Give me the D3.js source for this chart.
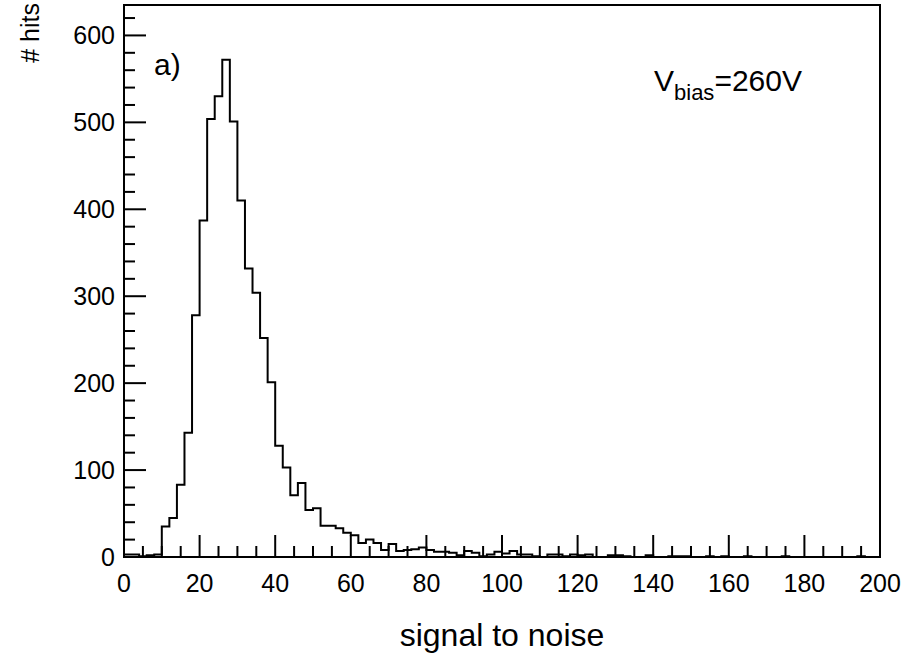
<!DOCTYPE html>
<html>
<head>
<meta charset="utf-8">
<script src="https://cdn.jsdelivr.net/npm/d3@7"></script>
<style>
  body { margin: 0; background: #fff; }
  text { font-family: "Liberation Sans", Arial, sans-serif; fill: #000; }
</style>
</head>
<body>
<div id="chart"></div>
<script>
// Histogram: 100 bins of width 2 from 0 to 200
const binEdges = d3.range(0, 201, 2);
const counts = [
  3, 3, 1, 2, 3, 35, 45, 83, 143, 278,
  387, 504, 530, 572, 501, 410, 332, 304, 252, 201,
  128, 103, 71, 85, 54, 56, 36, 36, 33, 28,
  25, 16, 20, 16, 8, 15, 7, 8, 9, 11,
  8, 6, 6, 5, 2, 7, 5, 1, 3, 6,
  4, 7, 3, 3, 1, 0, 3, 3, 1, 3,
  2, 3, 0, 0, 2, 2, 1, 0, 0, 2,
  0, 0, 1, 1, 1, 0, 0, 1, 0, 1,
  0, 0, 1, 0, 0, 0, 0, 1, 0, 0,
  0, 0, 0, 0, 0, 0, 0, 1, 0, 0
];
const xTicks = d3.range(0, 201, 20);
const yTicks = d3.range(0, 601, 100);

const width = 903, height = 659;
const frame = { left: 124, right: 880, top: 5, bottom: 557 };

const svg = d3.select("#chart").append("svg")
    .attr("width", width)
    .attr("height", height);

const x = d3.scaleLinear().domain([0, 200]).range([frame.left, frame.right]);
const y = d3.scaleLinear().domain([0, 635]).range([frame.bottom, frame.top]);

// step outline of the histogram
const pts = [[x(0), y(0)]];
counts.forEach((c, i) => {
    pts.push([x(binEdges[i]), y(c)]);
    pts.push([x(binEdges[i + 1]), y(c)]);
});
pts.push([x(200), y(0)]);

svg.append("path")
    .attr("d", d3.line()(pts))
    .attr("fill", "none")
    .attr("stroke", "#000")
    .attr("stroke-width", 2);

// ticks (ROOT style, inside the frame)
const g = svg.append("g").attr("stroke", "#000").attr("stroke-width", 2);
d3.range(0, 201, 5).forEach(v => {
    const len = v % 20 === 0 ? 22 : 11;
    g.append("line").attr("x1", x(v)).attr("x2", x(v))
        .attr("y1", frame.bottom).attr("y2", frame.bottom - len);
});
d3.range(0, 621, 20).forEach(v => {
    const len = v % 100 === 0 ? 22 : 11;
    g.append("line").attr("x1", frame.left).attr("x2", frame.left + len)
        .attr("y1", y(v)).attr("y2", y(v));
});

// frame
svg.append("rect")
    .attr("x", frame.left).attr("y", frame.top)
    .attr("width", frame.right - frame.left)
    .attr("height", frame.bottom - frame.top)
    .attr("fill", "none").attr("stroke", "#000").attr("stroke-width", 2);

// tick labels
svg.selectAll(".xl").data(xTicks).enter().append("text")
    .attr("x", d => x(d)).attr("y", 592)
    .attr("text-anchor", "middle").attr("font-size", 25)
    .text(d => d);

svg.selectAll(".yl").data(yTicks).enter().append("text")
    .attr("x", 115).attr("y", d => y(d) + 9)
    .attr("text-anchor", "end").attr("font-size", 25)
    .text(d => d);

// axis titles
svg.append("text")
    .attr("x", (frame.left + frame.right) / 2).attr("y", 646)
    .attr("text-anchor", "middle").attr("font-size", 32)
    .text("signal to noise");

svg.append("text")
    .attr("transform", "translate(39,3) rotate(-90)")
    .attr("text-anchor", "end").attr("font-size", 25)
    .text("# hits");

// annotations
svg.append("text")
    .attr("x", 154).attr("y", 75).attr("font-size", 30)
    .text("a)");

const vb = svg.append("text").attr("x", 654).attr("y", 91).attr("font-size", 30);
vb.append("tspan").text("V");
vb.append("tspan").attr("font-size", 22).attr("dy", 9).text("bias");
vb.append("tspan").attr("dy", -9).text("=260V");
</script>
</body>
</html>
